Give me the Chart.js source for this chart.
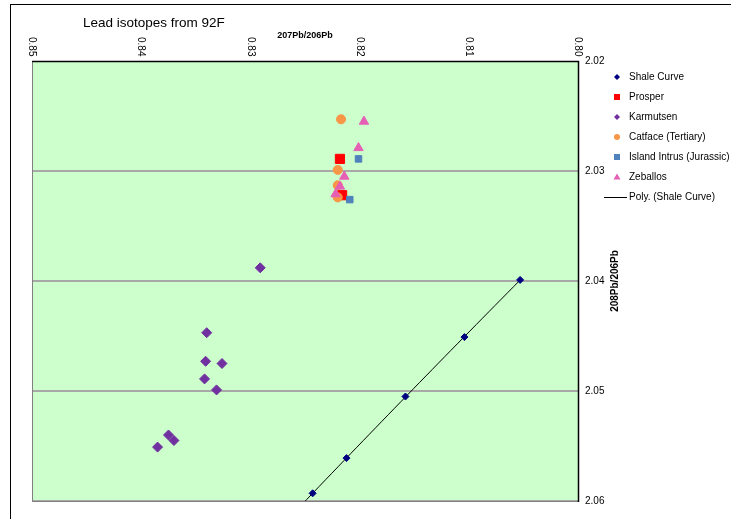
<!DOCTYPE html>
<html>
<head>
<meta charset="utf-8">
<script src="https://cdn.jsdelivr.net/npm/chart.js@4/dist/chart.umd.min.js"></script>
<style>
  html, body { margin: 0; padding: 0; background: #ffffff; overflow: hidden; }
  #wrap { position: relative; width: 731px; height: 519px; }
  canvas { display: block; }
</style>
</head>
<body>
<div id="wrap"><canvas id="c" width="731" height="519"></canvas></div>
<script>
// Lead isotope ratios, 207Pb/206Pb (x) against 208Pb/206Pb (y)
const shaleX   = [0.8053, 0.8104, 0.8158, 0.8212, 0.8243];
const shaleY   = [2.0399, 2.0451, 2.0505, 2.0561, 2.0593];
const prosperX = [0.8218, 0.8216];
const prosperY = [2.0289, 2.0322];
const karmX    = [0.8291, 0.8340, 0.8341, 0.8326, 0.8342, 0.8331, 0.8375, 0.8370, 0.8385];
const karmY    = [2.0388, 2.0447, 2.0473, 2.0475, 2.0489, 2.0499, 2.0540, 2.0545, 2.0551];
const catX     = [0.8217, 0.8220, 0.8220, 0.8220];
const catY     = [2.0253, 2.0299, 2.0313, 2.0324];
const islandX  = [0.8201, 0.8209];
const islandY  = [2.0289, 2.0326];
const zebX     = [0.8196, 0.8201, 0.8214, 0.8218, 0.8222];
const zebY     = [2.0255, 2.0279, 2.0305, 2.0314, 2.0321];

const seriesNames = ['Shale Curve', 'Prosper', 'Karmutsen', 'Catface (Tertiary)',
                     'Island Intrus (Jurassic)', 'Zeballos', 'Poly. (Shale Curve)'];
const xTicks = [0.85, 0.84, 0.83, 0.82, 0.81, 0.80];
const yTicks = [2.02, 2.03, 2.04, 2.05, 2.06];

const FONT = '"Liberation Sans", Arial, sans-serif';

function pts(xs, ys) { return xs.map((x, i) => ({ x: x, y: ys[i] })); }

// second-order least-squares fit of the shale curve (y as a function of x)
function polyFit2(xs, ys) {
  const n = xs.length;
  const mx = xs.reduce((a, b) => a + b, 0) / n;
  const u = xs.map(x => x - mx);
  let s = [0, 0, 0, 0, 0], t = [0, 0, 0];
  for (let i = 0; i < n; i++) {
    let p = 1;
    for (let k = 0; k < 5; k++) { s[k] += p; p *= u[i]; }
    t[0] += ys[i]; t[1] += ys[i] * u[i]; t[2] += ys[i] * u[i] * u[i];
  }
  const M = [[s[0], s[1], s[2], t[0]], [s[1], s[2], s[3], t[1]], [s[2], s[3], s[4], t[2]]];
  for (let c = 0; c < 3; c++) {
    for (let r = c + 1; r < 3; r++) {
      const f = M[r][c] / M[c][c];
      for (let k = c; k < 4; k++) M[r][k] -= f * M[c][k];
    }
  }
  const a = [0, 0, 0];
  for (let r = 2; r >= 0; r--) {
    let v = M[r][3];
    for (let k = r + 1; k < 3; k++) v -= M[r][k] * a[k];
    a[r] = v / M[r][r];
  }
  return x => a[0] + a[1] * (x - mx) + a[2] * (x - mx) * (x - mx);
}

const fit = polyFit2(shaleX, shaleY);
const trendPts = [];
const x0 = Math.min(...shaleX), x1 = Math.max(...shaleX) + 0.004;
for (let i = 0; i <= 40; i++) {
  const x = x0 + (x1 - x0) * i / 40;
  trendPts.push({ x: x, y: fit(x) });
}

const colors = {
  shale: '#000080', prosper: '#FF0000', karm: '#7030A0',
  cat: '#F79646', island: '#4F81BD', zeb: '#E560B5'
};

// later series sit on top of earlier ones
function mk(idx, data, color, style, radius) {
  return {
    label: seriesNames[idx], data: data, pointStyle: style, pointRadius: radius, pointHoverRadius: radius,
    backgroundColor: color, borderColor: color, pointBorderWidth: 1, showLine: false, order: 6 - idx
  };
}

const bgPlugin = {
  id: 'plotBg',
  beforeDraw(chart) {
    const { ctx, chartArea: a } = chart;
    ctx.save();
    ctx.fillStyle = '#CCFFCC';
    ctx.fillRect(a.left, a.top, a.right - a.left, a.bottom - a.top);
    ctx.restore();
  }
};

const decorPlugin = {
  id: 'decor',
  afterDraw(chart) {
    const { ctx, chartArea: a } = chart;
    const xs = chart.scales.x;
    ctx.save();
    // outer chart frame
    ctx.strokeStyle = '#000000';
    ctx.lineWidth = 1;
    ctx.strokeRect(10.5, 4.5, 900, 700);

    // plot frame
    ctx.beginPath();
    ctx.strokeStyle = '#808080';
    ctx.moveTo(a.left + 0.5, a.top);
    ctx.lineTo(a.left + 0.5, a.bottom + 0.5);
    ctx.lineTo(a.right, a.bottom + 0.5);
    ctx.stroke();
    ctx.beginPath();
    ctx.strokeStyle = '#000000';
    ctx.lineWidth = 1.5;
    ctx.moveTo(a.left, a.top + 0.5);
    ctx.lineTo(a.right + 0.5, a.top + 0.5);
    ctx.lineTo(a.right + 0.5, a.bottom + 1);
    ctx.stroke();

    // title
    ctx.fillStyle = '#000000';
    ctx.font = '13.5px ' + FONT;
    ctx.textAlign = 'left';
    ctx.textBaseline = 'alphabetic';
    ctx.fillText('Lead isotopes from 92F', 83, 27);

    // x axis title
    ctx.font = 'bold 9px ' + FONT;
    ctx.textAlign = 'center';
    ctx.textBaseline = 'middle';
    ctx.fillText('207Pb/206Pb', (a.left + a.right) / 2, 36);

    // x tick labels, turned to read downward
    ctx.font = '10px ' + FONT;
    xs.ticks.forEach(t => {
      const px = xs.getPixelForValue(t.value);
      ctx.save();
      ctx.translate(px, 37);
      ctx.rotate(Math.PI / 2);
      ctx.textAlign = 'left';
      ctx.textBaseline = 'middle';
      ctx.fillText(t.value.toFixed(2), 0, 0);
      ctx.restore();
    });

    // y axis title, reading upward
    ctx.save();
    ctx.translate(615, (a.top + a.bottom) / 2);
    ctx.rotate(-Math.PI / 2);
    ctx.font = 'bold 10px ' + FONT;
    ctx.textAlign = 'center';
    ctx.textBaseline = 'middle';
    ctx.fillText('208Pb/206Pb', 0, 0);
    ctx.restore();

    // legend
    const lx = 617, ly0 = 77, step = 20;
    ctx.font = '10px ' + FONT;
    ctx.textAlign = 'left';
    ctx.textBaseline = 'middle';
    seriesNames.forEach((name, i) => {
      const y = ly0 + i * step;
      ctx.fillStyle = '#000000';
      ctx.fillText(name, 629, y);
      ctx.beginPath();
      if (i === 0) {
        ctx.fillStyle = colors.shale;
        ctx.moveTo(lx, y - 3); ctx.lineTo(lx + 3, y); ctx.lineTo(lx, y + 3); ctx.lineTo(lx - 3, y);
        ctx.closePath(); ctx.fill();
      } else if (i === 1) {
        ctx.fillStyle = colors.prosper;
        ctx.fillRect(lx - 3, y - 3, 6, 6);
      } else if (i === 2) {
        ctx.fillStyle = colors.karm;
        ctx.moveTo(lx, y - 3); ctx.lineTo(lx + 3, y); ctx.lineTo(lx, y + 3); ctx.lineTo(lx - 3, y);
        ctx.closePath(); ctx.fill();
      } else if (i === 3) {
        ctx.fillStyle = colors.cat;
        ctx.arc(lx, y, 3, 0, Math.PI * 2); ctx.fill();
      } else if (i === 4) {
        ctx.fillStyle = colors.island;
        ctx.fillRect(lx - 3, y - 3, 6, 6);
      } else if (i === 5) {
        ctx.fillStyle = colors.zeb;
        ctx.moveTo(lx, y - 3.5); ctx.lineTo(lx + 3.5, y + 2.5); ctx.lineTo(lx - 3.5, y + 2.5);
        ctx.closePath(); ctx.fill();
      } else {
        ctx.strokeStyle = '#000000';
        ctx.lineWidth = 1;
        ctx.moveTo(604, y + 0.5); ctx.lineTo(627, y + 0.5); ctx.stroke();
      }
    });
    ctx.restore();
  }
};

new Chart(document.getElementById('c'), {
  type: 'scatter',
  data: {
    datasets: [
      mk(0, pts(shaleX, shaleY), colors.shale, 'rectRot', 3.5),
      mk(1, pts(prosperX, prosperY), colors.prosper, 'rect', 6.5),
      mk(2, pts(karmX, karmY), colors.karm, 'rectRot', 5),
      mk(3, pts(catX, catY), colors.cat, 'circle', 4.5),
      mk(4, pts(islandX, islandY), colors.island, 'rect', 4.6),
      mk(5, pts(zebX, zebY), colors.zeb, 'triangle', 5.4),
      {
        label: seriesNames[6], type: 'line', data: trendPts, showLine: true,
        borderColor: '#000000', borderWidth: 1, pointRadius: 0, pointHoverRadius: 0,
        fill: false, tension: 0, order: 10
      }
    ]
  },
  options: {
    responsive: false,
    animation: false,
    events: [],
    layout: { padding: { left: 32, top: 0, right: 0, bottom: 18 } },
    plugins: { legend: { display: false }, tooltip: { enabled: false }, title: { display: false } },
    scales: {
      x: {
        type: 'linear', position: 'top', reverse: true, min: 0.80, max: 0.85,
        afterBuildTicks(scale) { scale.ticks = xTicks.map(v => ({ value: v })); },
        afterFit(scale) { scale.height = 61; },
        ticks: { display: false },
        grid: { display: false },
        border: { display: false }
      },
      y: {
        type: 'linear', position: 'right', reverse: true, min: 2.02, max: 2.06,
        afterBuildTicks(scale) { scale.ticks = yTicks.map(v => ({ value: v })); },
        afterFit(scale) { scale.width = 153; },
        ticks: {
          color: '#000000', font: { family: FONT, size: 10 }, padding: 7,
          callback: v => Number(v).toFixed(2)
        },
        grid: {
          drawTicks: false, tickLength: 0, lineWidth: 2,
          color: ctx => (ctx.tick && Math.abs(ctx.tick.value - 2.02) < 1e-9) ? 'rgba(0,0,0,0)' : '#A8A8A8'
        },
        border: { display: false }
      }
    }
  },
  plugins: [bgPlugin, decorPlugin]
});
</script>
</body>
</html>
